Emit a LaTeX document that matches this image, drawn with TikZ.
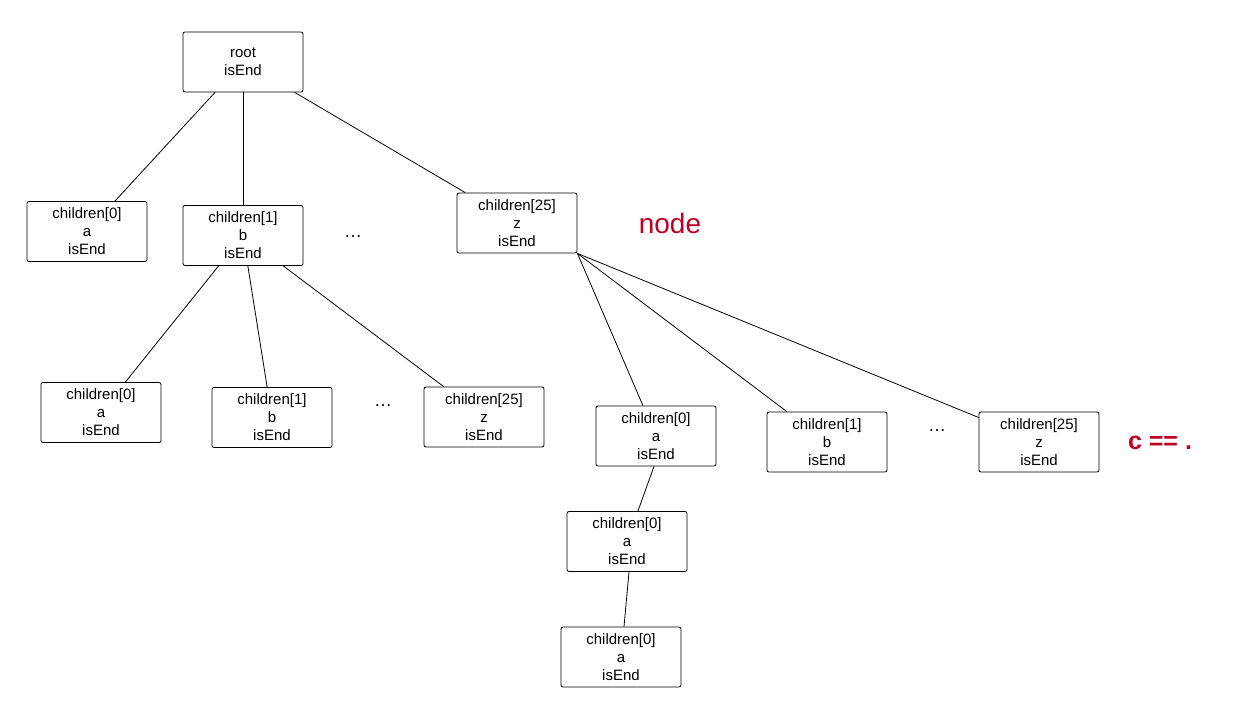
\documentclass[tikz,border=0pt]{standalone}
\usepackage{fontspec}
\setmainfont{Liberation Sans}
\usetikzlibrary{calc}
\definecolor{labelred}{RGB}{190,0,35}
\tikzset{
  trie/.style={draw=black, line width=0.8pt, rounded corners=2pt, minimum width=120pt, minimum height=60pt, inner sep=0pt, align=center, font=\fontsize{15}{18}\selectfont},
  dots/.style={font=\fontsize{18}{20}\selectfont},
  note/.style={text=labelred, font=\fontsize{28}{32}\selectfont},
  link/.style={line width=0.8pt}
}
\begin{document}
\begin{tikzpicture}[x=1pt,y=-1pt]
\useasboundingbox (0,0) rectangle (1245,707);
% level 0
\node[trie] (root) at (243,62) {root\\isEnd};
% level 1
\node[trie] (a1) at (87,231.5) {children[0]\\a\\isEnd};
\node[trie] (b1) at (243,235.5) {children[1]\\b\\isEnd};
\node[dots] (d1) at (353,237) {…};
\node[trie] (z1) at (517,223) {children[25]\\z\\isEnd};
\node[note] (lnode) at (670,223) {node};
% level 2 left
\node[trie] (a2) at (101,412.5) {children[0]\\a\\isEnd};
\node[trie] (b2) at (272,417.5) {children[1]\\b\\isEnd};
\node[dots] (d2) at (383,406) {…};
\node[trie] (z2) at (484,417) {children[25]\\z\\isEnd};
% level 2 right
\node[trie] (a3) at (656,436) {children[0]\\a\\isEnd};
\node[trie] (b3) at (827,442) {children[1]\\b\\isEnd};
\node[dots] (d3) at (937,431) {…};
\node[trie] (z3) at (1039,442) {children[25]\\z\\isEnd};
\node[note, font=\bfseries\fontsize{25}{30}\selectfont] (lc) at (1160,443) {c == .};
% chain
\node[trie] (a4) at (627,541.5) {children[0]\\a\\isEnd};
\node[trie] (a5) at (621,657) {children[0]\\a\\isEnd};
% connectors
\draw[link] (root) -- (a1);
\draw[link] (root) -- (b1);
\draw[link] (root) -- (z1);
\draw[link] (b1) -- (a2);
\draw[link] (b1) -- (b2);
\draw[link] (b1) -- (z2);
\draw[link] (z1.south east) -- (a3);
\draw[link] (z1.south east) -- (b3);
\draw[link] (z1.south east) -- (z3);
\draw[link] ($(a3.south)+(-2,0)$) -- (a4);
\draw[link] ($(a4.south)+(2,0)$) -- ($(a5.north)+(3,0)$);
\end{tikzpicture}
\end{document}
